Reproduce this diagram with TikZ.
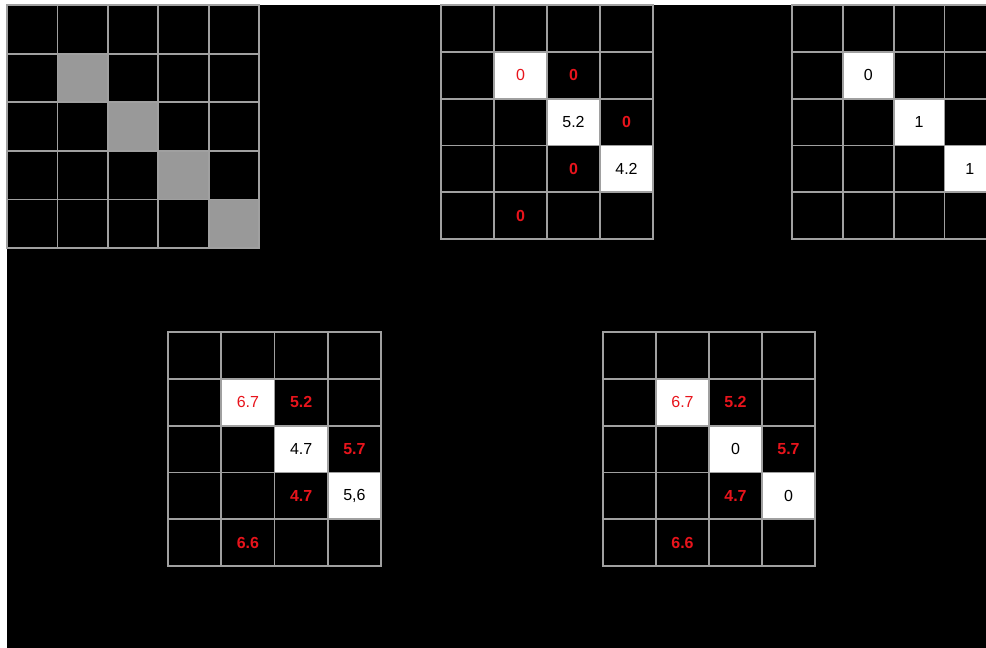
\documentclass[tikz,border=0pt]{standalone}
\usepackage{fontspec}
\setmainfont{Liberation Sans}
\usepackage{xcolor}
\usetikzlibrary{positioning}

\definecolor{linegray}{HTML}{A0A0A0}
\definecolor{cellgray}{HTML}{999999}
\definecolor{numred}{HTML}{E8141C}

% one grid of empty cells, named <name>-<row>-<col>
\newcommand{\cellgrid}[7]{% name, x0, y0, cols, rows, cell w, cell h
  \foreach \c in {1,...,#4}
    \foreach \r in {1,...,#5}
      \node[cell, minimum width=#6pt, minimum height=#7pt]
        (#1-\r-\c) at ({#2+(\c-0.5)*#6}, {#3+(\r-0.5)*#7}) {};
}

\begin{document}
\begin{tikzpicture}[
  x=1pt, y=-1pt,
  cell/.style={draw=linegray, line width=1.8pt, inner sep=0pt},
  graycell/.style={cell, fill=cellgray},
  whitecell/.style={cell, fill=white, font=\fontsize{16}{18}\selectfont},
  redtext/.style={text=numred, font=\bfseries\fontsize{16}{18}\selectfont}
]
  \useasboundingbox (0,0) rectangle (986,648);
  \clip (0,0) rectangle (986,648);
  \fill[black] (7,5) rectangle (986,648);

  % top left: gray diagonal
  \cellgrid{gA}{7}{5}{5}{5}{50.4}{48.6}
  \foreach \i in {2,...,5}
    \node[graycell, minimum width=50.4pt, minimum height=48.6pt]
      (gA-d\i) at (gA-\i-\i) {};

  % top middle
  \cellgrid{gB}{441}{5}{4}{5}{53}{46.8}
  \node[whitecell, minimum width=53pt, minimum height=46.8pt, text=numred]
    (gB-w2) at (gB-2-2) {0};
  \node[whitecell, minimum width=53pt, minimum height=46.8pt]
    (gB-w3) at (gB-3-3) {5.2};
  \node[whitecell, minimum width=53pt, minimum height=46.8pt]
    (gB-w4) at (gB-4-4) {4.2};
  \node[redtext] (gB-r23) at (gB-2-3) {0};
  \node[redtext] (gB-r34) at (gB-3-4) {0};
  \node[redtext] (gB-r43) at (gB-4-3) {0};
  \node[redtext] (gB-r52) at (gB-5-2) {0};

  % top right, cut at the edge
  \cellgrid{gC}{792}{5}{4}{5}{50.8}{46.8}
  \node[whitecell, minimum width=50.8pt, minimum height=46.8pt]
    (gC-w2) at (gC-2-2) {0};
  \node[whitecell, minimum width=50.8pt, minimum height=46.8pt]
    (gC-w3) at (gC-3-3) {1};
  \node[whitecell, minimum width=50.8pt, minimum height=46.8pt]
    (gC-w4) at (gC-4-4) {1};

  % bottom left
  \cellgrid{gD}{168}{332}{4}{5}{53.25}{46.8}
  \node[whitecell, minimum width=53.25pt, minimum height=46.8pt, text=numred]
    (gD-w2) at (gD-2-2) {6.7};
  \node[whitecell, minimum width=53.25pt, minimum height=46.8pt]
    (gD-w3) at (gD-3-3) {4.7};
  \node[whitecell, minimum width=53.25pt, minimum height=46.8pt]
    (gD-w4) at (gD-4-4) {5,6};
  \node[redtext] (gD-r23) at (gD-2-3) {5.2};
  \node[redtext] (gD-r34) at (gD-3-4) {5.7};
  \node[redtext] (gD-r43) at (gD-4-3) {4.7};
  \node[redtext] (gD-r52) at (gD-5-2) {6.6};

  % bottom right
  \cellgrid{gE}{603}{332}{4}{5}{53}{46.8}
  \node[whitecell, minimum width=53pt, minimum height=46.8pt, text=numred]
    (gE-w2) at (gE-2-2) {6.7};
  \node[whitecell, minimum width=53pt, minimum height=46.8pt]
    (gE-w3) at (gE-3-3) {0};
  \node[whitecell, minimum width=53pt, minimum height=46.8pt]
    (gE-w4) at (gE-4-4) {0};
  \node[redtext] (gE-r23) at (gE-2-3) {5.2};
  \node[redtext] (gE-r34) at (gE-3-4) {5.7};
  \node[redtext] (gE-r43) at (gE-4-3) {4.7};
  \node[redtext] (gE-r52) at (gE-5-2) {6.6};
\end{tikzpicture}
\end{document}
